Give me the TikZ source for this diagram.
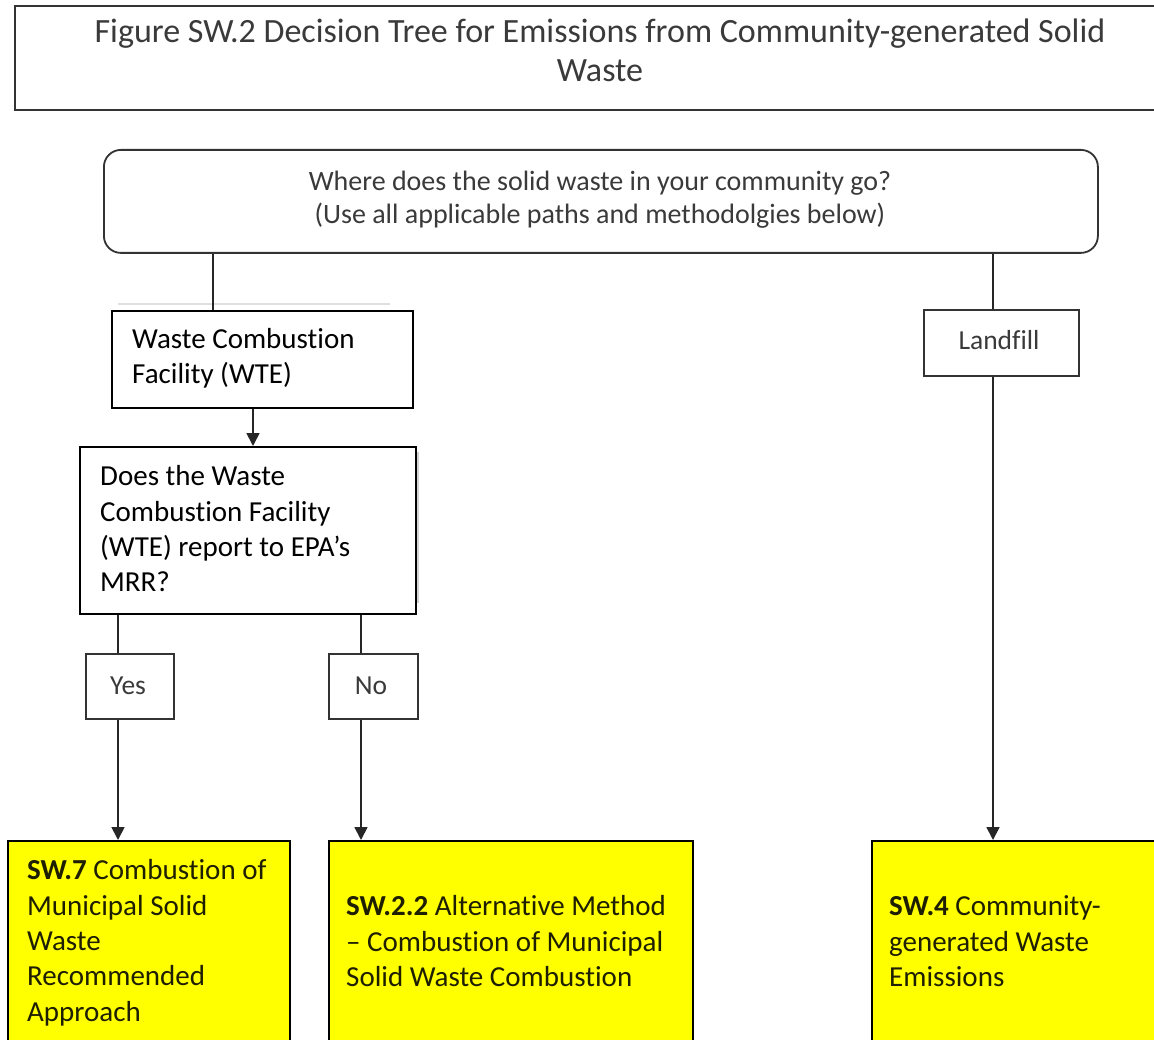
\documentclass[tikz,border=0pt]{standalone}
\usepackage{fontspec}
\setmainfont{Carlito}[Ligatures=NoCommon]
\usetikzlibrary{arrows.meta}
\definecolor{ttl}{HTML}{3A3A3A}
\definecolor{gbord}{HTML}{333333}
\definecolor{yel}{HTML}{FFFF00}
\definecolor{ytxt}{HTML}{1E1E00}
\begin{document}
\begin{tikzpicture}[x=1pt,y=-1pt,
  gbox/.style={draw=gbord, line width=1.8pt, inner sep=0, anchor=north west},
  bbox/.style={draw=black, line width=2.3pt, inner sep=0, anchor=north west},
  ybox/.style={draw=black, fill=yel, line width=1.8pt, inner sep=0, anchor=north west},
  conn/.style={draw=black!85, line width=1.8pt},
  arr/.style={conn, -{Triangle[width=13pt,length=13pt]}},
  btxt/.style={anchor=north west, inner sep=0, align=left, font=\fontsize{29}{35.3}\selectfont, text=black},
  ytx/.style={anchor=north west, inner sep=0, align=left, font=\fontsize{29}{35.3}\selectfont, text=ytxt},
  gtxt/.style={anchor=base, inner sep=0, font=\fontsize{27.5}{32}\selectfont, text=ttl},
  ]
\clip (0,0) rectangle (1154,1040);
\fill[white] (0,0) rectangle (1154,1040);

% title
\node[gbox, minimum width=1160pt, minimum height=104pt] (title) at (14,5) {};
\node[anchor=north, inner sep=0, align=center, font=\fontsize{34}{39}\selectfont, text=ttl] (titletext) at (600,14.7)
  {\strut Figure SW.2 Decision Tree for Emissions from Community-generated Solid\\Waste};

% question box
\node[gbox, rounded corners=17pt, minimum width=994pt, minimum height=103pt] (q0) at (103,149) {};
\node[anchor=north, inner sep=0, align=center, font=\fontsize{28}{33}\selectfont, text=ttl] (q0text) at (600,167.3)
  {\strut Where does the solid waste in your community go?\\(Use all applicable paths and methodolgies below)};

% faint ghost lines
\draw[gray!25, line width=1.5pt] (118,304) -- (390,304);
\draw[gray!35, line width=1.5pt] (418,452) -- (418,603);

% WTE box
\node[bbox, minimum width=301pt, minimum height=97pt] (wte) at (111,310) {};
\node[btxt] (wtetext) at (132,323.2) {\strut Waste Combustion\\Facility (WTE)};

% MRR question
\node[bbox, minimum width=336pt, minimum height=167pt] (mrr) at (79,446) {};
\node[btxt] (mrrtext) at (100,461) {\strut Does the Waste\\Combustion Facility\\(WTE) report to EPA’s\\MRR?};

% Landfill
\node[gbox, minimum width=155pt, minimum height=66pt] (land) at (923,309) {};
\node[gtxt] (landtext) at (999,350) {Landfill};

% Yes / No
\node[gbox, minimum width=88pt, minimum height=65pt] (yes) at (85,653) {};
\node[gtxt] (yestext) at (128,694) {Yes};
\node[gbox, minimum width=89pt, minimum height=65pt] (no) at (328,653) {};
\node[gtxt] (notext) at (371,694) {No};

% yellow result boxes
\node[ybox, minimum width=282pt, minimum height=215pt] (r1) at (7,840) {};
\node[ytx] (r1text) at (27,855) {\strut\textbf{SW.7} Combustion of\\Municipal Solid\\Waste\\Recommended\\Approach};
\node[ybox, minimum width=364pt, minimum height=215pt] (r2) at (328,840) {};
\node[ytx] (r2text) at (346,891) {\strut\textbf{SW.2.2} Alternative Method\\– Combustion of Municipal\\Solid Waste Combustion};
\node[ybox, minimum width=300pt, minimum height=215pt] (r3) at (871,840) {};
\node[ytx] (r3text) at (889,891) {\strut\textbf{SW.4} Community-\\generated Waste\\Emissions};

% connector columns
\coordinate (xa) at (213,0);
\coordinate (xb) at (253,0);
\coordinate (xy) at (118,0);
\coordinate (xn) at (361,0);
\coordinate (xl) at (993,0);

\draw[conn] (xa |- q0.south) -- (xa |- wte.north);
\draw[conn] (xl |- q0.south) -- (xl |- land.north);
\draw[arr] (xb |- wte.south) -- (xb |- mrr.north);
\draw[conn] (xy |- mrr.south) -- (xy |- yes.north);
\draw[conn] (xn |- mrr.south) -- (xn |- no.north);
\draw[arr] (xy |- yes.south) -- (xy |- r1.north);
\draw[arr] (xn |- no.south) -- (xn |- r2.north);
\draw[arr] (xl |- land.south) -- (xl |- r3.north);
\end{tikzpicture}
\end{document}
